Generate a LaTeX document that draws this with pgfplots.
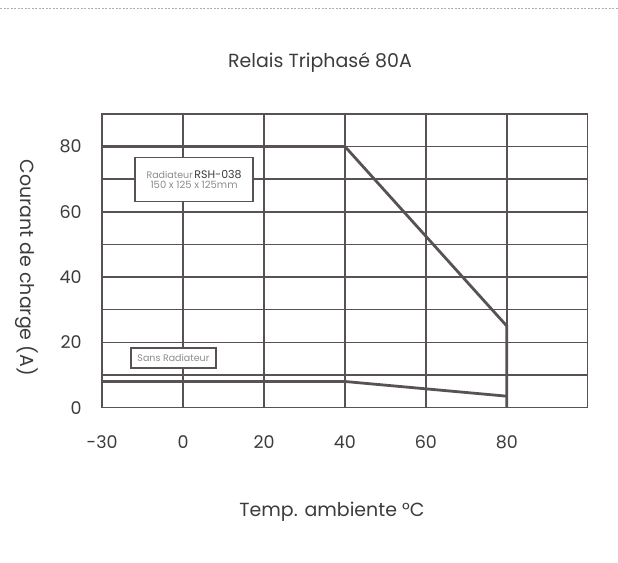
\documentclass[border=0pt]{standalone}
\usepackage{fontspec}
\setmainfont{Poppins}
\usepackage{pgfplots}
\pgfplotsset{compat=1.18}
\definecolor{gridc}{RGB}{88,82,84}
\definecolor{txt}{RGB}{60,60,60}
\definecolor{lite}{RGB}{140,140,140}
\begin{document}
\begin{tikzpicture}[x=1pt,y=1pt]
\path (0,0) rectangle (618,563);
\draw[lite!70, line width=0.6pt, dash pattern=on 2pt off 1.5pt] (0,555) -- (618,555);
\begin{axis}[
  at={(102pt,155pt)}, anchor=south west,
  scale only axis, width=486pt, height=294pt,
  xmin=0, xmax=6, ymin=0, ymax=90,
  xtick={0,...,5}, xticklabels={-30,0,20,40,60,80},
  ytick={0,20,40,60,80}, minor ytick={10,30,50,70},
  grid=both, major tick length=0pt, minor tick length=0pt,
  grid style={gridc, line width=1.5pt},
  minor grid style={gridc, line width=1.5pt},
  axis line style={gridc, line width=1.5pt},
  /pgf/number format/assume math mode=true,
  tick label style={font=\fontsize{17.5}{20}\selectfont, text=txt},
  xticklabel style={anchor=base, yshift=-41pt},
  yticklabel style={xshift=-17pt},
  clip=false,
]
\addplot[gridc, line width=2.8pt, line join=miter] coordinates {(0,80) (3,80) (5,25) (5,0)};
\addplot[gridc, line width=2.8pt] coordinates {(0,8) (3,8) (5,3.5)};
\node[draw=gridc, line width=1.8pt, fill=white, minimum width=118pt, minimum height=44pt, inner sep=0pt, align=center]
  at (axis cs:1.135,69.9) {{\fontsize{9.5}{10}\selectfont\color{lite}Radiateur}\,{\fontsize{11}{11}\selectfont\color{txt}RSH-038}\\[-2pt]
  {\fontsize{10}{11}\selectfont\color{lite}150 x 125 x 125mm}};
\node[draw=gridc, line width=1.8pt, fill=white, minimum width=85pt, minimum height=20pt, inner sep=0pt]
  at (axis cs:0.88,15.3) {\fontsize{9.5}{10}\selectfont\color{lite}Sans Radiateur};
\end{axis}
\node[text=txt, font=\fontsize{19}{22}\selectfont] at (320,500) {Relais Triphasé 80A};
\node[text=txt, font=\fontsize{19}{22}\selectfont] at (332,51) {Temp. ambiente °C};
\node[text=txt, font=\fontsize{19}{22}\selectfont, rotate=-90] at (27,295) {Courant de charge (A)};
\end{tikzpicture}
\end{document}
